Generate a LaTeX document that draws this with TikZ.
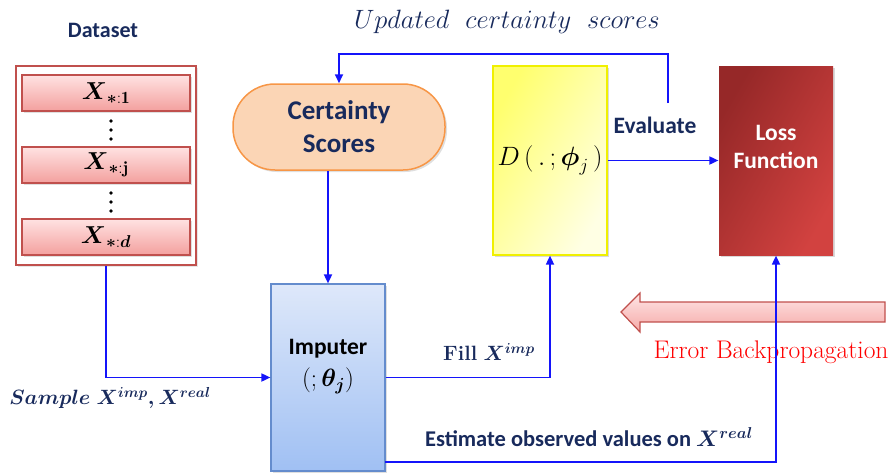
\RequirePackage{fix-cm}
\documentclass[tikz,border=0pt]{standalone}
\usepackage{amsmath}
\usepackage{fontspec}
\setsansfont{Carlito}
\usetikzlibrary{arrows.meta,calc,shadows}

\definecolor{navy}{RGB}{24,42,92}
\definecolor{wire}{RGB}{20,20,250}
\definecolor{redline}{RGB}{192,80,77}
\definecolor{peach}{RGB}{251,213,181}
\definecolor{orangeline}{RGB}{247,150,70}
\definecolor{pinktop}{RGB}{255,226,226}
\definecolor{pinkbot}{RGB}{243,160,158}
\definecolor{lossdark}{RGB}{150,40,40}
\definecolor{losslight}{RGB}{210,66,64}
\definecolor{bluetop}{RGB}{222,232,250}
\definecolor{bluebot}{RGB}{160,192,243}
\definecolor{blueline}{RGB}{100,140,205}

\tikzset{
  lbl/.style={font=\sffamily\bfseries\fontsize{23.5}{25}\selectfont, text=navy, align=center},
  rowbox/.style={draw=redline, line width=1.2pt, top color=pinktop, bottom color=pinkbot,
    minimum width=168pt, minimum height=36pt, drop shadow={opacity=0.25,shadow xshift=1.5pt,shadow yshift=-1.5pt}},
  tallbox/.style={minimum width=114pt, minimum height=189pt, line width=1.2pt, inner sep=0pt,
    drop shadow={opacity=0.3,shadow xshift=2pt,shadow yshift=-2pt}},
  flow/.style={draw=wire, line width=1.7pt, -{Triangle[length=9pt,width=8pt]}},
  dotmark/.style={fill=black},
}

\begin{document}
\begin{tikzpicture}[x=1pt,y=-1pt]
\useasboundingbox (0,0) rectangle (892,472);

% dataset column
\node[lbl, font=\sffamily\bfseries\fontsize{22}{24}\selectfont] (dstitle) at (103,30) {Dataset};
\node[draw=redline, line width=1.5pt, fill=white, minimum width=180pt, minimum height=199pt,
      drop shadow={opacity=0.2,shadow xshift=1.5pt,shadow yshift=-1.5pt}] (ds) at (106,165.5) {};
\node[rowbox] (r1) at (106,93)  {\fontsize{24.5}{26}\selectfont$\boldsymbol{X}_{\boldsymbol{*}:\mathbf{1}}$};
\node[rowbox] (rj) at (106,165) {\fontsize{24.5}{26}\selectfont$\boldsymbol{X}_{\boldsymbol{*}:\mathbf{j}}$};
\node[rowbox] (rd) at (106,237) {\fontsize{24.5}{26}\selectfont$\boldsymbol{X}_{\boldsymbol{*}:\boldsymbol{d}}$};
\foreach \yy in {121,130,139,193,202,211}
  \fill[dotmark] (111,\yy) circle (1.8pt);

% certainty scores
\node[draw=orangeline, line width=1.5pt, fill=peach, rounded corners=42pt,
      minimum width=212pt, minimum height=86pt, lbl,
      font=\sffamily\bfseries\fontsize{27}{33}\selectfont,
      drop shadow={opacity=0.25,shadow xshift=2pt,shadow yshift=-2pt}] (cert) at (339,127) {Certainty\\Scores};

% discriminator
\node[tallbox, draw={rgb,255:red,240;green,240;blue,0}, left color={rgb,255:red,255;green,255;blue,110},
      right color={rgb,255:red,255;green,255;blue,228}, shading angle=60] (D) at (550,160.5)
      {\fontsize{26.5}{28}\selectfont$D\,(\,.\,;\boldsymbol{\phi}_{j}\,)$};

% loss
\node[tallbox, draw=none, left color=lossdark, right color=losslight, shading angle=60] (loss) at (776,160.5) {};
\node[text=white, font=\sffamily\bfseries\fontsize{23.5}{28}\selectfont, align=center] (losstxt) at (776,147)
      {Loss\\Function};

% imputer
\node[draw=blueline, line width=1.2pt, top color=bluetop, bottom color=bluebot,
      minimum width=114pt, minimum height=187pt,
      drop shadow={opacity=0.25,shadow xshift=2pt,shadow yshift=-2pt}] (imp) at (328,377.5) {};
\node[font=\sffamily\bfseries\fontsize{23.5}{25}\selectfont, text=black] (imptxt) at (328,349) {Imputer};
\node[font=\fontsize{25}{27}\selectfont] (imppar) at (328,381) {$(;\boldsymbol{\theta_j})$};

% error backpropagation arrow
\path[draw=redline, line width=1.2pt, top color=pinktop, bottom color=pinkbot, fill opacity=0.9]
  (621,312) -- (640,293) -- (640,302) -- (885,302) -- (885,322) -- (640,322) -- (640,332) -- cycle;
\node[text=red, font=\fontsize{25.5}{27}\selectfont] (errtxt) at (771,352) {Error Backpropagation};

% connectors
\coordinate (fb) at (668,103);
\coordinate (est) at (385,462);
\draw[flow] (ds.south) |- (imp.west);
\draw[flow] (cert.south -| imp.north) -- (imp.north);
\draw[flow] (fb) -- ++(0,-49) -| (cert.north);
\draw[flow] (D.east) -- (loss.west);
\draw[flow] (imp.east) -| (D.south);
\draw[flow] (est) -| (loss.south);

% labels
\node[font=\fontsize{26.5}{28}\selectfont, text=navy] (upd) at (507,22) {$Updated\ \ certainty\ \ scores$};
\node[lbl] (evl) at (655,125) {Evaluate};
\node[text=navy, font=\fontsize{20.7}{22}\selectfont] (fill) at (489,352) {\textbf{Fill} $\boldsymbol{X^{imp}}$};
\node[text=navy, font=\fontsize{20.7}{22}\selectfont] (smp) at (110,398) {$\boldsymbol{Sample\ X^{imp},X^{real}}$};
\node[text=navy, font=\sffamily\bfseries\fontsize{22.5}{24}\selectfont] (estl) at (589,437)
  {Estimate observed values on \rmfamily$\boldsymbol{X^{real}}$};
\end{tikzpicture}
\end{document}
